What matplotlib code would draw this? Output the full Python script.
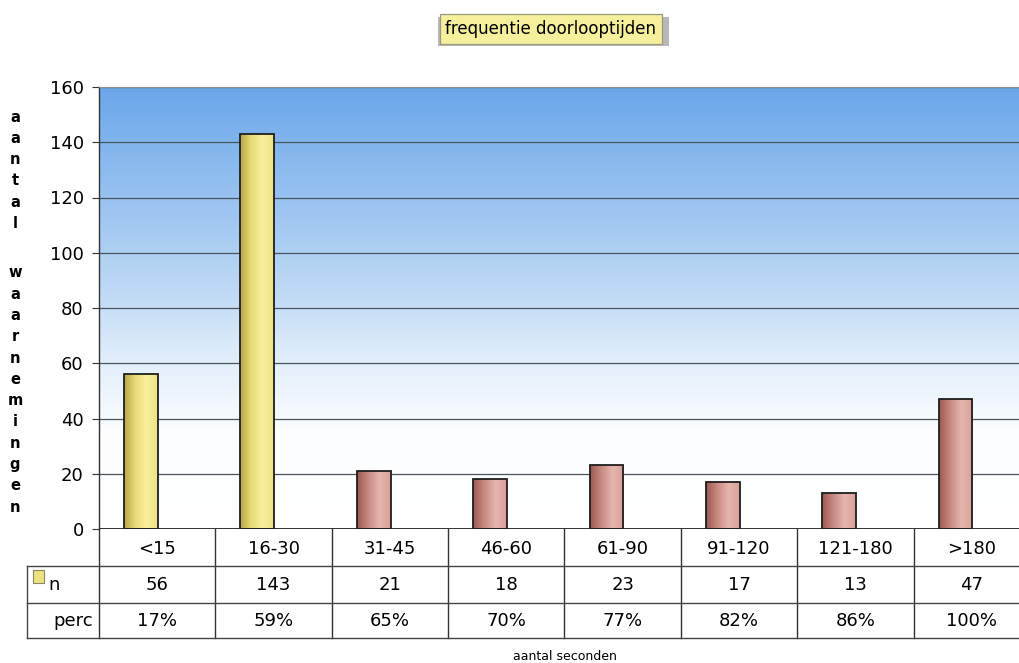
import matplotlib.pyplot as plt
import numpy as np
from matplotlib.colors import LinearSegmentedColormap
from matplotlib.lines import Line2D
from matplotlib.patches import Rectangle
import matplotlib.transforms as mtransforms

categories = ['<15', '16-30', '31-45', '46-60', '61-90', '91-120', '121-180', '>180']
n_values = [56, 143, 21, 18, 23, 17, 13, 47]
perc_labels = ['17%', '59%', '65%', '70%', '77%', '82%', '86%', '100%']
y_ticks = [0, 20, 40, 60, 80, 100, 120, 140, 160]

W, H = 1020, 663
fig = plt.figure(figsize=(W / 100, H / 100), dpi=100)
fig.patch.set_facecolor('white')

def fx(px):
    return px / W

def fy(py):
    return 1 - py / H

# plot area runs a bit past the right edge of the figure
ax = fig.add_axes([fx(99), fy(529), fx(1030) - fx(99), fy(87) - fy(529)])
ax.set_xlim(-0.5, len(categories) - 0.5)
ax.set_ylim(0, 160)

# sky-like background: blue on top, fading to white below
sky = LinearSegmentedColormap.from_list('sky', [
    (0.0, '#ffffff'), (0.22, '#fbfdff'), (0.38, '#e2effb'),
    (0.55, '#bcd8f4'), (0.8, '#8fbdef'), (1.0, '#6aa7ea')])
grad = np.linspace(0, 1, 256).reshape(-1, 1)
ax.imshow(grad, cmap=sky, origin='lower', aspect='auto',
          extent=(-0.5, len(categories) - 0.5, 0, 160), zorder=0)

for t in y_ticks[1:]:
    ax.axhline(t, color='#4a5560', lw=0.9, zorder=1)

yellow = LinearSegmentedColormap.from_list('yel', ['#b9a648', '#e8dc78', '#f8f09c', '#efe285'])
rose = LinearSegmentedColormap.from_list('ros', ['#9c5a52', '#c98a82', '#e6b6ae', '#d9a098'])

x = np.arange(len(categories))
width = 0.29
offset = -0.14
bars = ax.bar(x + offset, n_values, width, color='none', edgecolor='#1e1e1e',
              lw=1.3, zorder=3)
hgrad = np.linspace(0, 1, 64).reshape(1, -1)
for i, b in enumerate(bars):
    cm = yellow if i < 2 else rose
    im = ax.imshow(hgrad, cmap=cm, aspect='auto', zorder=2,
                   extent=(b.get_x(), b.get_x() + b.get_width(), 0, b.get_height()))
    im.set_clip_path(b)
ax.set_xlim(-0.5, len(categories) - 0.5)
ax.set_ylim(0, 160)

for s in ['right', 'bottom']:
    ax.spines[s].set_visible(False)
ax.spines['top'].set_color('#8a8f96')
ax.spines['top'].set_linewidth(0.8)
ax.spines['left'].set_color('#333333')
ax.spines['left'].set_linewidth(1.0)
ax.set_xticks([])
ax.set_yticks(y_ticks)
ax.tick_params(axis='y', length=5, color='#333333', labelsize=13, pad=6)
ax.axhline(0, color='#222222', lw=1.3, zorder=4)

# data table under the chart
blend = mtransforms.blended_transform_factory(ax.transData, fig.transFigure)
row_tops = [529, 566, 603, 638]
for i in range(len(categories) + 1):
    fig.add_artist(Line2D([i - 0.5, i - 0.5], [fy(529), fy(638)], transform=blend,
                          color='#333333', lw=1.0))
for py in row_tops[1:]:
    fig.add_artist(Line2D([fx(27), 1.0], [fy(py), fy(py)], color='#444444', lw=1.0))
fig.add_artist(Line2D([fx(27), fx(27)], [fy(566), fy(638)], color='#444444', lw=1.0))

for i, (c, v, p) in enumerate(zip(categories, n_values, perc_labels)):
    fig.text(i, fy(549), c, transform=blend, ha='center', va='center', fontsize=13)
    fig.text(i, fy(585), str(v), transform=blend, ha='center', va='center', fontsize=13)
    fig.text(i, fy(621), p, transform=blend, ha='center', va='center', fontsize=13)

# legend key for the n row
fig.add_artist(Rectangle((fx(33), fy(583)), fx(44) - fx(33), fy(570) - fy(583),
                         facecolor='#ece27e', edgecolor='#888866', lw=0.8))
fig.text(fx(48), fy(585), 'n', ha='left', va='center', fontsize=13)
fig.text(fx(93), fy(621), 'perc', ha='right', va='center', fontsize=13)

# title box with a soft shadow
fig.add_artist(Rectangle((fx(438), fy(46)), fx(669) - fx(438), fy(17) - fy(46),
                         facecolor='#b8b8b8', edgecolor='none'))
fig.text(fx(551), fy(29), 'frequentie doorlooptijden', ha='center', va='center',
         fontsize=12, bbox=dict(boxstyle='square,pad=0.35', facecolor='#f6ef9c',
                                edgecolor='#9a9a80', lw=0.9))

# stacked vertical axis title
label = 'aantal waarnemingen'
py = 117
for ch in label:
    if ch == ' ':
        py += 28
        continue
    fig.text(fx(15), fy(py), ch, ha='center', va='center', fontsize=10.5, fontweight='bold')
    py += 21.3

fig.text(fx(565), fy(657), 'aantal seconden', ha='center', va='center', fontsize=9)

fig.savefig('out.png', dpi=100)
